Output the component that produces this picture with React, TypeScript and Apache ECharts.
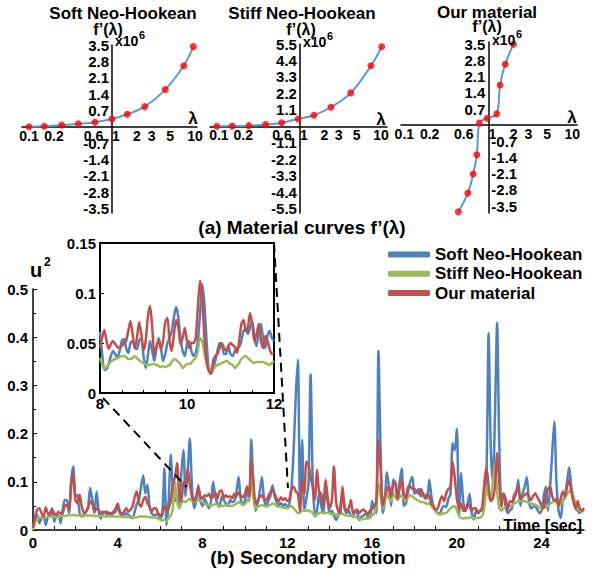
import React, { useEffect, useRef } from 'react';
import * as echarts from 'echarts';

const FONT = 'Arial, "Liberation Sans", Helvetica, sans-serif';
const BLUE = '#4f81bd';
const GREEN = '#9bbb59';
const RED = '#c0504d';
const CURVE = '#5b9bd5';
const DOT = '#ff0000';

// ---------- (a) Material curves ----------
const softLambda = [0.1, 0.153, 0.248, 0.393, 0.624, 1.0, 1.53, 2.48, 4.39, 7.31, 9.55];
const softF = [0.0, 0.02, 0.07, 0.12, 0.19, 0.33, 0.53, 0.86, 1.59, 2.61, 3.43];
const stiffLambda = [0.094, 0.146, 0.234, 0.377, 0.594, 0.95, 1.49, 2.41, 4.23, 7.53, 10.2];
const stiffF = [0.0, 0.01, 0.04, 0.11, 0.24, 0.49, 0.74, 1.27, 2.23, 4.05, 5.32];
const oursLambda = [0.44, 0.57, 0.66, 0.73, 0.78, 0.97, 1.26, 1.38, 1.59, 1.99];
const oursF = [-3.75, -2.94, -2.11, -1.28, 0.09, 0.3, 0.49, 1.74, 2.64, 3.5];
const lambdaTicks = [0.1, 0.2, 0.6, 1, 2, 3, 5, 10];
const softTicks = [3.5, 2.8, 2.1, 1.4, 0.7, -0.7, -1.4, -2.1, -2.8, -3.5];
const stiffTicks = [5.5, 4.4, 3.3, 2.2, 1.1, -1.1, -2.2, -3.3, -4.4, -5.5];
const oursPosTicks = [3.5, 2.8, 2.1, 1.4, 0.7];
const oursNegTicks = [-0.7, -1.4, -2.1, -2.8, -3.5];

// ---------- (b) Secondary motion (u^2), sampled every 0.1 s from 0 s ----------
const mainStart = 0;
const mainStep = 0.1;
const softMain = [
  0.000, 0.021, 0.031, 0.014, 0.024, 0.031, 0.010, 0.028, 0.035, 0.045,
  0.017, 0.028, 0.031, 0.014, 0.042, 0.062, 0.062, 0.035, 0.104, 0.132,
  0.069, 0.073, 0.035, 0.028, 0.031, 0.038, 0.049, 0.087, 0.062, 0.035,
  0.080, 0.038, 0.024, 0.035, 0.038, 0.031, 0.035, 0.031, 0.035, 0.038,
  0.049, 0.035, 0.031, 0.031, 0.035, 0.031, 0.028, 0.024, 0.038, 0.055,
  0.062, 0.090, 0.113, 0.076, 0.094, 0.049, 0.035, 0.031, 0.031, 0.035,
  0.024, 0.031, 0.128, 0.010, 0.060, 0.156, 0.083, 0.060, 0.070, 0.050,
  0.120, 0.166, 0.070, 0.120, 0.190, 0.090, 0.045, 0.060, 0.093, 0.060,
  0.050, 0.065, 0.055, 0.045, 0.060, 0.100, 0.070, 0.055, 0.048, 0.068,
  0.062, 0.055, 0.050, 0.062, 0.058, 0.060, 0.078, 0.110, 0.065, 0.052,
  0.060, 0.090, 0.060, 0.188, 0.090, 0.040, 0.055, 0.080, 0.110, 0.065,
  0.050, 0.060, 0.070, 0.093, 0.070, 0.058, 0.052, 0.056, 0.050, 0.054,
  0.048, 0.055, 0.090, 0.166, 0.280, 0.353, 0.040, 0.187, 0.040, 0.065,
  0.095, 0.323, 0.100, 0.035, 0.040, 0.076, 0.050, 0.035, 0.080, 0.060,
  0.035, 0.040, 0.030, 0.021, 0.030, 0.050, 0.076, 0.045, 0.035, 0.040,
  0.030, 0.028, 0.040, 0.035, 0.021, 0.028, 0.030, 0.035, 0.028, 0.025,
  0.060, 0.045, 0.035, 0.372, 0.170, 0.035, 0.060, 0.120, 0.090, 0.050,
  0.105, 0.095, 0.065, 0.100, 0.128, 0.050, 0.055, 0.080, 0.100, 0.110,
  0.075, 0.080, 0.085, 0.070, 0.075, 0.070, 0.065, 0.104, 0.070, 0.048,
  0.040, 0.035, 0.035, 0.045, 0.050, 0.048, 0.065, 0.075, 0.180, 0.165,
  0.210, 0.030, 0.118, 0.060, 0.040, 0.050, 0.075, 0.035, 0.022, 0.040,
  0.035, 0.040, 0.040, 0.070, 0.120, 0.408, 0.170, 0.100, 0.240, 0.430,
  0.180, 0.060, 0.076, 0.048, 0.035, 0.040, 0.045, 0.065, 0.075, 0.104,
  0.050, 0.075, 0.090, 0.110, 0.060, 0.045, 0.048, 0.050, 0.042, 0.035,
  0.040, 0.070, 0.090, 0.040, 0.090, 0.160, 0.225, 0.100, 0.040, 0.025,
  0.060, 0.070, 0.100, 0.130, 0.090, 0.060, 0.045, 0.040, 0.035, 0.040,
  0.045,
];
const stiffMain = [
  0.000, 0.017, 0.022, 0.026, 0.026, 0.026, 0.026, 0.028, 0.028, 0.028,
  0.028, 0.028, 0.028, 0.029, 0.029, 0.029, 0.030, 0.030, 0.031, 0.031,
  0.031, 0.030, 0.030, 0.030, 0.030, 0.030, 0.030, 0.030, 0.030, 0.029,
  0.029, 0.029, 0.029, 0.029, 0.028, 0.028, 0.028, 0.028, 0.028, 0.028,
  0.028, 0.028, 0.027, 0.027, 0.027, 0.027, 0.026, 0.026, 0.026, 0.026,
  0.028, 0.028, 0.028, 0.028, 0.027, 0.027, 0.026, 0.026, 0.026, 0.024,
  0.021, 0.020, 0.022, 0.018, 0.025, 0.030, 0.045, 0.100, 0.060, 0.045,
  0.055, 0.060, 0.058, 0.062, 0.065, 0.060, 0.058, 0.060, 0.062, 0.060,
  0.058, 0.055, 0.052, 0.052, 0.050, 0.052, 0.054, 0.052, 0.050, 0.050,
  0.050, 0.052, 0.052, 0.050, 0.050, 0.052, 0.055, 0.058, 0.055, 0.052,
  0.054, 0.060, 0.065, 0.100, 0.065, 0.045, 0.048, 0.050, 0.052, 0.050,
  0.048, 0.050, 0.052, 0.055, 0.054, 0.050, 0.048, 0.048, 0.046, 0.046,
  0.045, 0.048, 0.050, 0.045, 0.040, 0.035, 0.036, 0.040, 0.041, 0.040,
  0.041, 0.038, 0.036, 0.028, 0.032, 0.035, 0.037, 0.035, 0.035, 0.036,
  0.035, 0.032, 0.034, 0.032, 0.031, 0.033, 0.034, 0.031, 0.030, 0.029,
  0.030, 0.027, 0.027, 0.025, 0.024, 0.022, 0.023, 0.024, 0.024, 0.025,
  0.030, 0.035, 0.055, 0.097, 0.070, 0.045, 0.058, 0.075, 0.065, 0.060,
  0.075, 0.068, 0.062, 0.068, 0.072, 0.065, 0.062, 0.068, 0.072, 0.070,
  0.066, 0.063, 0.060, 0.058, 0.058, 0.056, 0.054, 0.055, 0.050, 0.044,
  0.038, 0.034, 0.032, 0.033, 0.035, 0.035, 0.040, 0.045, 0.048, 0.050,
  0.040, 0.030, 0.025, 0.024, 0.025, 0.025, 0.026, 0.026, 0.025, 0.025,
  0.025, 0.026, 0.030, 0.045, 0.090, 0.070, 0.060, 0.100, 0.138, 0.080,
  0.045, 0.040, 0.045, 0.048, 0.048, 0.050, 0.050, 0.055, 0.057, 0.060,
  0.060, 0.060, 0.060, 0.058, 0.057, 0.055, 0.054, 0.052, 0.050, 0.046,
  0.045, 0.046, 0.048, 0.050, 0.055, 0.058, 0.060, 0.058, 0.055, 0.052,
  0.060, 0.065, 0.075, 0.080, 0.083, 0.070, 0.055, 0.045, 0.040, 0.038,
  0.040,
];
const oursMain = [
  0.004, 0.028, 0.042, 0.045, 0.035, 0.028, 0.047, 0.035, 0.031, 0.042,
  0.035, 0.031, 0.038, 0.035, 0.035, 0.052, 0.050, 0.042, 0.090, 0.118,
  0.062, 0.055, 0.073, 0.049, 0.035, 0.038, 0.045, 0.059, 0.055, 0.038,
  0.045, 0.042, 0.035, 0.038, 0.036, 0.038, 0.035, 0.035, 0.038, 0.045,
  0.055, 0.038, 0.035, 0.038, 0.045, 0.038, 0.042, 0.049, 0.069, 0.080,
  0.055, 0.049, 0.062, 0.069, 0.055, 0.049, 0.038, 0.045, 0.045, 0.035,
  0.031, 0.035, 0.049, 0.040, 0.045, 0.060, 0.095, 0.110, 0.139, 0.070,
  0.060, 0.100, 0.090, 0.128, 0.095, 0.070, 0.060, 0.070, 0.088, 0.070,
  0.065, 0.072, 0.070, 0.075, 0.065, 0.070, 0.078, 0.065, 0.080, 0.082,
  0.066, 0.072, 0.068, 0.070, 0.066, 0.075, 0.070, 0.078, 0.072, 0.068,
  0.075, 0.090, 0.070, 0.145, 0.100, 0.055, 0.062, 0.068, 0.072, 0.065,
  0.062, 0.070, 0.078, 0.085, 0.075, 0.065, 0.060, 0.068, 0.062, 0.066,
  0.060, 0.065, 0.085, 0.090, 0.080, 0.075, 0.040, 0.104, 0.075, 0.142,
  0.135, 0.110, 0.090, 0.062, 0.125, 0.080, 0.075, 0.048, 0.105, 0.070,
  0.045, 0.060, 0.132, 0.060, 0.040, 0.035, 0.090, 0.050, 0.040, 0.045,
  0.062, 0.035, 0.040, 0.042, 0.035, 0.040, 0.042, 0.038, 0.032, 0.040,
  0.045, 0.048, 0.060, 0.187, 0.132, 0.050, 0.070, 0.083, 0.090, 0.070,
  0.095, 0.100, 0.065, 0.085, 0.105, 0.075, 0.065, 0.090, 0.090, 0.085,
  0.085, 0.080, 0.075, 0.085, 0.075, 0.065, 0.075, 0.070, 0.055, 0.050,
  0.042, 0.045, 0.060, 0.070, 0.060, 0.076, 0.085, 0.090, 0.142, 0.110,
  0.065, 0.045, 0.055, 0.040, 0.040, 0.055, 0.050, 0.040, 0.045, 0.045,
  0.035, 0.040, 0.048, 0.100, 0.130, 0.090, 0.060, 0.065, 0.090, 0.160,
  0.100, 0.048, 0.075, 0.065, 0.042, 0.060, 0.058, 0.072, 0.080, 0.090,
  0.065, 0.070, 0.072, 0.076, 0.070, 0.062, 0.070, 0.076, 0.068, 0.060,
  0.050, 0.045, 0.075, 0.085, 0.090, 0.070, 0.060, 0.065, 0.050, 0.065,
  0.080, 0.070, 0.090, 0.104, 0.080, 0.060, 0.045, 0.060, 0.045, 0.040,
  0.045,
];
const mainTimeLabels = [0, 4, 8, 12, 16, 20, 24];
const mainTimeTicks = [1, 2, 3, 5, 6, 7, 9, 10, 11, 13, 14, 15, 17, 18, 19, 21, 22, 23, 25];

// ---------- Inset: 8 s .. 12 s, sampled every 0.05 s ----------
const insetStart = 8;
const insetStep = 0.05;
const softInset = [
  0.061, 0.039, 0.023, 0.024, 0.029, 0.037, 0.042, 0.039, 0.035, 0.042,
  0.052, 0.054, 0.045, 0.040, 0.050, 0.052, 0.045, 0.044, 0.052, 0.055,
  0.037, 0.025, 0.037, 0.052, 0.042, 0.032, 0.045, 0.055, 0.045, 0.032,
  0.039, 0.050, 0.055, 0.062, 0.076, 0.086, 0.076, 0.055, 0.042, 0.037,
  0.049, 0.052, 0.042, 0.037, 0.040, 0.052, 0.079, 0.109, 0.089, 0.052,
  0.024, 0.020, 0.024, 0.032, 0.042, 0.050, 0.049, 0.039, 0.039, 0.047,
  0.039, 0.037, 0.042, 0.045, 0.046, 0.052, 0.062, 0.064, 0.059, 0.066,
  0.072, 0.055, 0.047, 0.062, 0.069, 0.054, 0.045, 0.057, 0.062, 0.055,
  0.052,
];
const stiffInset = [
  0.035, 0.029, 0.024, 0.026, 0.029, 0.031, 0.033, 0.034, 0.035, 0.036,
  0.037, 0.037, 0.036, 0.034, 0.034, 0.035, 0.037, 0.035, 0.033, 0.031,
  0.030, 0.029, 0.028, 0.028, 0.029, 0.029, 0.028, 0.027, 0.026, 0.027,
  0.026, 0.027, 0.028, 0.031, 0.034, 0.033, 0.031, 0.029, 0.025, 0.027,
  0.029, 0.029, 0.030, 0.033, 0.035, 0.042, 0.055, 0.052, 0.040, 0.030,
  0.026, 0.022, 0.024, 0.026, 0.028, 0.029, 0.030, 0.031, 0.032, 0.031,
  0.029, 0.028, 0.025, 0.027, 0.030, 0.034, 0.036, 0.037, 0.035, 0.033,
  0.031, 0.030, 0.031, 0.031, 0.031, 0.031, 0.030, 0.029, 0.028, 0.030,
  0.032,
];
const oursInset = [
  0.045, 0.055, 0.063, 0.052, 0.044, 0.049, 0.052, 0.049, 0.046, 0.045,
  0.047, 0.050, 0.052, 0.062, 0.072, 0.059, 0.045, 0.055, 0.071, 0.059,
  0.043, 0.052, 0.076, 0.087, 0.066, 0.039, 0.047, 0.052, 0.044, 0.052,
  0.071, 0.075, 0.052, 0.042, 0.059, 0.073, 0.066, 0.049, 0.055, 0.065,
  0.052, 0.045, 0.050, 0.050, 0.055, 0.086, 0.112, 0.096, 0.055, 0.032,
  0.022, 0.019, 0.032, 0.037, 0.039, 0.045, 0.050, 0.045, 0.042, 0.047,
  0.050, 0.048, 0.046, 0.040, 0.052, 0.069, 0.073, 0.062, 0.066, 0.080,
  0.069, 0.052, 0.059, 0.069, 0.052, 0.045, 0.057, 0.052, 0.044, 0.039,
  0.040,
];

const seriesNames = ['Soft Neo-Hookean', 'Stiff Neo-Hookean', 'Our material'];
// zoom connectors: inset point -> main-chart point (data coordinates)
const zoomLinks = [
  { from: [8.07, -0.005], to: [7.25, 0.089] },
  { from: [12, 0.15], to: [12.03, 0.087] },
];

// panel layout (pixels) and axis ranges (log10 λ on x)
const panelLayout = [
  { left: 22, top: 45, width: 175, height: 168, xMin: -1.084, xMax: 1.024, yMin: -3.7, yMax: 3.5 },
  { left: 210, top: 44, width: 177, height: 169, xMin: -1.11, xMax: 1.074, yMin: -5.8, yMax: 5.5 },
  { left: 401, top: 42, width: 176, height: 171, xMin: -1.04, xMax: 1.056, yMin: -3.8, yMax: 3.6 },
];

const toTimePairs = (vals: number[], t0: number, step: number) =>
  vals.map((v, i) => [Number((t0 + i * step).toFixed(3)), v]);
const toLogPairs = (lams: number[], fs: number[]) => lams.map((l, i) => [Math.log10(l), fs[i]]);

const bold = (size: number) => ({ fontFamily: FONT, fontWeight: 'bold' as const, fontSize: size, color: '#000' });
const axisLineStyle = (w: number) => ({ color: '#000', width: w });

const fmtLambda = (lam: number) => String(Number(lam.toPrecision(2)));
function lambdaLabel(v: number) {
  const lam = Number(Math.pow(10, v).toPrecision(2));
  return lam === 1 ? '{one|1}' : String(lam);
}

// offsets that bring each axis to the other axis' zero
function zeroOffsets(p: any) {
  const zeroX = p.left + ((0 - p.xMin) / (p.xMax - p.xMin)) * p.width;
  const zeroY = p.top + ((p.yMax - 0) / (p.yMax - p.yMin)) * p.height;
  return {
    leftOffset: -(zeroX - p.left),
    rightOffset: -(p.left + p.width - zeroX),
    bottomOffset: -(p.top + p.height - zeroY),
  };
}

function panelXAxis(gridIndex: number, layoutIndex: number, showLine = true, showLabels = true) {
  const p = panelLayout[layoutIndex];
  const o = zeroOffsets(p);
  return {
    type: 'value', gridIndex, min: p.xMin, max: p.xMax, position: 'bottom', offset: o.bottomOffset,
    axisLine: { show: showLine, onZero: false, lineStyle: axisLineStyle(1.5) },
    axisTick: { show: false }, splitLine: { show: false },
    axisLabel: {
      show: showLabels,
      ...bold(14), margin: 2,
      customValues: lambdaTicks.map((l) => Math.log10(l)),
      formatter: lambdaLabel,
      rich: { one: { ...bold(14), padding: [0, 0, 0, 8] } },
    },
  };
}

function panelYAxis(gridIndex: number, layoutIndex: number, ticks: number[], position: 'left' | 'right', showLine = true, showLabels = true) {
  const p = panelLayout[layoutIndex];
  const o = zeroOffsets(p);
  return {
    type: 'value', gridIndex, min: p.yMin, max: p.yMax, position,
    offset: position === 'left' ? o.leftOffset : o.rightOffset,
    axisLine: { show: showLine, onZero: false, lineStyle: axisLineStyle(1.5) },
    axisTick: { show: false }, splitLine: { show: false },
    axisLabel: {
      show: showLabels, ...bold(15), margin: 3, customValues: ticks,
      formatter: (v: number) => String(Number(v.toFixed(2))),
    },
  };
}

function textEl(id: string, x: number, y: number, text: string, size: number, align = 'center', vAlign = 'middle') {
  return {
    type: 'text', id, x, y, z: 100,
    style: { text, fill: '#000', fontFamily: FONT, fontWeight: 'bold', fontSize: size, align, verticalAlign: vAlign },
  };
}

const texts = [
  textEl('t1', 123, 13, 'Soft Neo-Hookean', 17),
  textEl('t2', 302, 13, 'Stiff Neo-Hookean', 17),
  textEl('t3', 487, 12, 'Our material', 17),
  textEl('f1', 108, 29, 'f’(λ)', 16),
  textEl('f2', 301, 29, 'f’(λ)', 16),
  textEl('f3', 487, 26, 'f’(λ)', 16),
  textEl('x1', 115, 41, 'x10', 14, 'left'),
  textEl('e1', 139, 35, '6', 11, 'left'),
  textEl('x2', 303, 42, 'x10', 14, 'left'),
  textEl('e2', 327, 36, '6', 11, 'left'),
  textEl('x3', 492, 40, 'x10', 14, 'left'),
  textEl('e3', 516, 34, '6', 11, 'left'),
  textEl('l1', 193, 118, 'λ', 17),
  textEl('l2', 381, 119, 'λ', 17),
  textEl('l3', 572, 117, 'λ', 17),
  textEl('capA', 302, 227, '(a) Material curves f’(λ)', 19),
  textEl('u', 30, 270, 'u', 20, 'left'),
  textEl('u2', 44, 262, '2', 12, 'left'),
  textEl('time', 582, 525, 'Time [sec]', 16, 'right'),
  textEl('capB', 308, 557, '(b) Secondary motion', 19),
];

function buildOption(): any {
  const gridBase = { containLabel: false, outerBoundsMode: 'none' };
  const panelCurve = (name: string, xi: number, yi: number, data: number[][]) => [
    { name, type: 'line', xAxisIndex: xi, yAxisIndex: yi, data, smooth: 0.4, showSymbol: false,
      lineStyle: { color: CURVE, width: 2 }, itemStyle: { color: CURVE }, z: 3 },
    { name: name + '-pts', type: 'scatter', xAxisIndex: xi, yAxisIndex: yi, data, symbolSize: 7,
      itemStyle: { color: DOT }, z: 4 },
  ];
  const mainLine = (name: string, color: string, xi: number, yi: number, data: number[][], w: number) => ({
    name, type: 'line', xAxisIndex: xi, yAxisIndex: yi, data, smooth: 0.25, showSymbol: false,
    lineStyle: { color, width: w }, itemStyle: { color },
  });
  const p3 = panelLayout[2];

  return {
    animation: false,
    backgroundColor: '#fff',
    grid: [
      ...panelLayout.map((p) => ({ ...gridBase, left: p.left, top: p.top, width: p.width, height: p.height })),
      { ...gridBase, left: 33, top: 289, width: 551, height: 241 },
      { ...gridBase, left: 100, top: 243, width: 174, height: 150, show: true, borderColor: '#000', borderWidth: 2, backgroundColor: '#fff' },
      // overlay grid for panel 3 carrying the negative f' labels on the right of the axis
      { ...gridBase, left: p3.left, top: p3.top, width: p3.width, height: p3.height },
    ],
    xAxis: [
      panelXAxis(0, 0),
      panelXAxis(1, 1),
      panelXAxis(2, 2, true, false),
      {
        type: 'value', gridIndex: 3, min: 0, max: 26,
        axisLine: { lineStyle: axisLineStyle(1.5) },
        axisTick: { inside: true, length: 4, customValues: mainTimeTicks, lineStyle: { color: '#000' } },
        splitLine: { show: false },
        axisLabel: { ...bold(15), margin: 5, customValues: mainTimeLabels },
      },
      {
        type: 'value', gridIndex: 4, min: 8, max: 12, interval: 2,
        axisLine: { lineStyle: axisLineStyle(2) },
        axisTick: { inside: true, length: 4, lineStyle: { color: '#000' } },
        minorTick: { show: true, splitNumber: 4, length: 3, lineStyle: { color: '#000' } },
        splitLine: { show: false },
        axisLabel: { ...bold(15), margin: 3 },
      },
      panelXAxis(5, 2, false, false),
    ],
    yAxis: [
      panelYAxis(0, 0, softTicks, 'left'),
      panelYAxis(1, 1, stiffTicks, 'left'),
      panelYAxis(2, 2, oursPosTicks, 'left'),
      {
        type: 'value', gridIndex: 3, min: 0, max: 0.5, interval: 0.1,
        axisLine: { lineStyle: axisLineStyle(1.5) },
        axisTick: { inside: true, length: 4, lineStyle: { color: '#000' } },
        minorTick: { show: true, splitNumber: 2, length: 3, lineStyle: { color: '#000' } },
        splitLine: { show: false },
        axisLabel: { ...bold(15), margin: 5 },
      },
      {
        type: 'value', gridIndex: 4, min: 0, max: 0.15, interval: 0.05,
        axisLine: { lineStyle: axisLineStyle(2) },
        axisTick: { inside: true, length: 4, lineStyle: { color: '#000' } },
        splitLine: { show: false },
        axisLabel: { ...bold(15), margin: 4 },
      },
      panelYAxis(5, 2, oursNegTicks, 'right', false, true),
    ],
    legend: {
      orient: 'vertical', left: 383, top: 241, itemWidth: 42, itemHeight: 6, itemGap: 2.3,
      icon: 'roundRect', selectedMode: false,
      textStyle: { ...bold(17) },
      data: seriesNames,
    },
    series: [
      ...panelCurve('soft-curve', 0, 0, toLogPairs(softLambda, softF)),
      ...panelCurve('stiff-curve', 1, 1, toLogPairs(stiffLambda, stiffF)),
      ...panelCurve('ours-curve', 2, 2, toLogPairs(oursLambda, oursF)),
      mainLine(seriesNames[0], BLUE, 3, 3, toTimePairs(softMain, mainStart, mainStep), 2.5),
      mainLine(seriesNames[1], GREEN, 3, 3, toTimePairs(stiffMain, mainStart, mainStep), 2.5),
      mainLine(seriesNames[2], RED, 3, 3, toTimePairs(oursMain, mainStart, mainStep), 2.5),
      mainLine(seriesNames[0], BLUE, 4, 4, toTimePairs(softInset, insetStart, insetStep), 2.5),
      mainLine(seriesNames[1], GREEN, 4, 4, toTimePairs(stiffInset, insetStart, insetStep), 2.5),
      mainLine(seriesNames[2], RED, 4, 4, toTimePairs(oursInset, insetStart, insetStep), 2.5),
    ],
    graphic: texts,
  };
}

export default function App() {
  const ref = useRef<HTMLDivElement>(null);
  useEffect(() => {
    const el = ref.current;
    if (!el) return;
    const chart = echarts.init(el, null, { renderer: 'svg' });
    chart.setOption(buildOption());
    const links = zoomLinks.map((l, i) => {
      const a = chart.convertToPixel({ gridIndex: 4 } as any, l.from) as unknown as number[];
      const b = chart.convertToPixel({ gridIndex: 3 } as any, l.to) as unknown as number[];
      return {
        type: 'line', id: 'link' + i, z: 90,
        shape: { x1: a[0], y1: a[1], x2: b[0], y2: b[1] },
        style: { stroke: '#000', lineWidth: 2, lineDash: [9, 6] },
      };
    });
    // λ tick labels of panel 3, positioned through the panel's own scales (drawn on top)
    const p3Labels = lambdaTicks.map((l, i) => {
      const pt = chart.convertToPixel({ gridIndex: 2 } as any, [Math.log10(l), 0]) as unknown as number[];
      const dx = l === 1 ? 4 : l === 0.6 ? -6 : 0;
      const t: any = textEl('p3lam' + i, pt[0] + dx, pt[1] + 2, fmtLambda(l), 14, 'center', 'top');
      t.z = 1000;
      t.zlevel = 1;
      return t;
    });
    chart.setOption({ graphic: [...texts, ...links, ...p3Labels] });
    return () => chart.dispose();
  }, []);
  return (
    <div
      ref={ref}
      style={{ position: 'fixed', left: 0, top: 0, width: 600, height: 577, background: '#fff' }}
    />
  );
}
